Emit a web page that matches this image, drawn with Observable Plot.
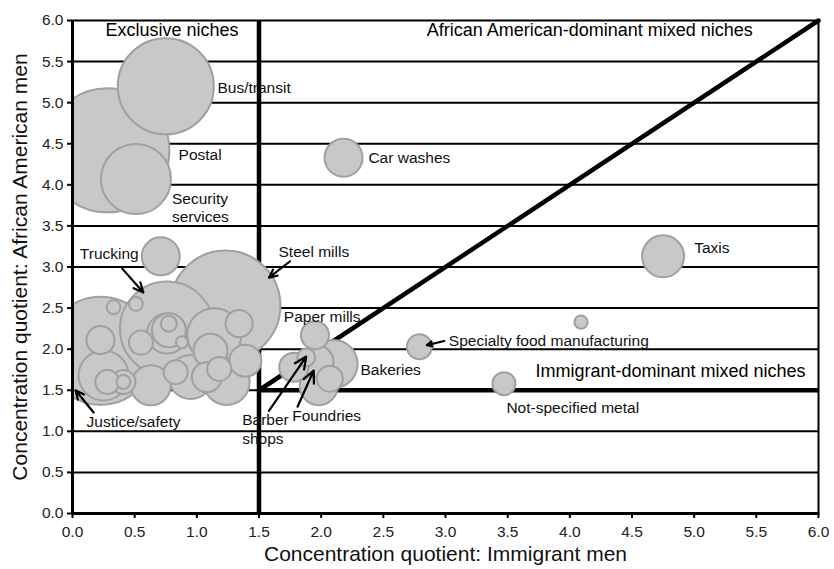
<!DOCTYPE html>
<html>
<head>
<meta charset="utf-8">
<script src="https://cdn.jsdelivr.net/npm/d3@7"></script>
<script src="https://cdn.jsdelivr.net/npm/@observablehq/plot@0.6"></script>
<style>
  html, body { margin: 0; padding: 0; background: #fff; }
  #chart svg { display: block; }
</style>
</head>
<body>
<div id="chart"></div>
<script>
// ---- Data ----
// Niche bubbles: immigrant CQ (x), African American CQ (y), size (relative employment)
const niches = ["Postal","Bus/transit","Security services","Car washes","Taxis",
  "Specialty food manufacturing","","Not-specified metal","Paper mills","Bakeries",
  "","Barber shops","","Foundries","","Steel mills","Trucking","Justice/safety",
  "","","","","","","","","","","","","","","","","","","","","","",""];
const immigrantCQ = [0.28,0.75,0.51,2.18,4.75,
  2.79,4.09,3.47,1.95,2.10,
  1.78,1.88,1.97,1.98,2.07,1.23,0.76,0.225,
  0.71,0.33,0.51,0.225,0.55,0.775,0.775,0.76,0.88,1.34,1.11,1.39,1.18,1.08,1.24,0.83,0.41,0.41,0.28,0.25,0.63,0.95,1.14];
const africanAmericanCQ = [4.42,5.20,4.07,4.33,3.13,
  2.03,2.33,1.58,2.17,1.82,
  1.78,1.90,1.85,1.55,1.64,2.53,2.25,1.98,
  3.13,2.51,2.55,2.11,2.08,2.31,2.23,2.19,2.085,2.31,1.98,1.86,1.76,1.66,1.60,1.72,1.60,1.60,1.60,1.68,1.56,1.66,2.17];
const employment = [96.1,57.6,30.6,9.0,11.0,
  3.9,1.1,3.3,4.9,14.4,
  5.3,2.0,6.4,9.0,4.2,75.6,55.2,72.9,
  9.0,1.2,1.2,4.9,3.6,1.6,7.2,10.0,0.9,4.6,7.2,6.4,3.6,5.6,13.2,3.6,1.2,3.6,3.6,15.6,10.0,12.1,18.2];

// Axis ticks and reference lines
const tickValues = [0,0.5,1,1.5,2,2.5,3,3.5,4,4.5,5,5.5,6];
const gridValues = [0.5,1,1.5,2,2.5,3,3.5,4,4.5,5,5.5];
const nicheThreshold = 1.5;
const axisMax = 6;

// Region titles
const regionTexts = ["Exclusive niches","African American-dominant mixed niches","Immigrant-dominant mixed niches"];
const regionX = [0.80, 4.16, 4.81];
const regionY = [5.88, 5.88, 1.73];

// Niche labels (left-anchored)
const labelTexts = ["Bus/transit","Postal","Security\nservices","Car washes","Taxis","Trucking",
  "Steel mills","Paper mills","Bakeries","Specialty food manufacturing","Not-specified metal",
  "Foundries","Barber\nshops","Justice/safety"];
const labelX = [1.166,0.853,0.80,2.38,5.00,0.059,1.657,1.70,2.316,3.027,3.49,1.767,1.365,0.113];
const labelY = [5.19,4.37,3.73,4.34,3.24,3.17,3.20,2.40,1.76,2.114,1.294,1.20,1.034,1.123];

// Pointer arrows (from label to bubble)
const arrowX1 = [0.40,1.75,0.17,1.58,1.81,2.99];
const arrowY1 = [2.98,3.07,1.23,1.25,1.30,2.10];
const arrowX2 = [0.57,1.58,0.024,1.88,1.94,2.85];
const arrowY2 = [2.69,2.87,1.50,1.91,1.74,2.05];

const xLabel = "Concentration quotient: Immigrant men";
const yLabel = "Concentration quotient: African American men";

// ---- Tables ----
const bubbles = d3.sort(
  niches.map((n, i) => ({name: n, x: immigrantCQ[i], y: africanAmericanCQ[i], size: employment[i]})),
  d => -d.size
);
const regions = regionTexts.map((t, i) => ({text: t, x: regionX[i], y: regionY[i]}));
const labels = labelTexts.map((t, i) => ({text: t, x: labelX[i], y: labelY[i]}));
const arrows = arrowX1.map((d, i) => ({x1: d, y1: arrowY1[i], x2: arrowX2[i], y2: arrowY2[i]}));
const diagonal = [{x: nicheThreshold, y: nicheThreshold}, {x: axisMax, y: axisMax}];

const font = "'Liberation Sans', Arial, Helvetica, sans-serif";

const chart = Plot.plot({
  width: 834,
  height: 569,
  marginLeft: 72,
  marginRight: 16,
  marginTop: 20,
  marginBottom: 56,
  style: {fontFamily: font, background: "#fff", color: "#111"},
  x: {domain: [0, axisMax]},
  y: {domain: [0, axisMax]},
  r: {type: "sqrt", domain: [0, 96], range: [0, 62]},
  marks: [
    Plot.ruleY(gridValues, {stroke: "#000", strokeWidth: 2}),
    Plot.ruleX([nicheThreshold], {stroke: "#000", strokeWidth: 4.5}),
    Plot.ruleY([nicheThreshold], {x1: nicheThreshold, x2: axisMax, stroke: "#000", strokeWidth: 4.5}),
    Plot.line(diagonal, {x: "x", y: "y", stroke: "#000", strokeWidth: 4.5}),
    Plot.dot(bubbles, {x: "x", y: "y", r: "size", fill: "#c8c8c8", stroke: "#a0a0a0", strokeWidth: 2, clip: true, sort: null}),
    Plot.frame({stroke: "#000", strokeWidth: 2}),
    Plot.ruleX([0], {stroke: "#000", strokeWidth: 3}),
    Plot.ruleY([0], {stroke: "#000", strokeWidth: 3}),
    Plot.axisX({ticks: tickValues, tickFormat: d3.format(".1f"), tickSize: 5, tickPadding: 7,
      strokeWidth: 2, stroke: "#000", fontSize: 15.5, fill: "#222", label: null}),
    Plot.axisY({ticks: tickValues, tickFormat: d3.format(".1f"), tickSize: 5, tickPadding: 4,
      strokeWidth: 2, stroke: "#000", fontSize: 15.5, fill: "#222", label: null}),
    Plot.text(regions, {x: "x", y: "y", text: "text", textAnchor: "middle", fontSize: 18, fill: "#000"}),
    Plot.text(labels, {x: "x", y: "y", text: "text", textAnchor: "start", fontSize: 15.5, lineHeight: 1.2, fill: "#111"}),
    Plot.arrow(arrows, {x1: "x1", y1: "y1", x2: "x2", y2: "y2", stroke: "#000", strokeWidth: 2.2, headLength: 9, headAngle: 50}),
    Plot.text([yLabel], {text: d => d, frameAnchor: "left", textAnchor: "middle", rotate: -90, dx: -52, fontSize: 21, fill: "#111"}),
    Plot.text([xLabel], {text: d => d, frameAnchor: "bottom", textAnchor: "middle", dy: 47, fontSize: 21, fill: "#111"})
  ]
});
document.getElementById("chart").appendChild(chart);
</script>
</body>
</html>
